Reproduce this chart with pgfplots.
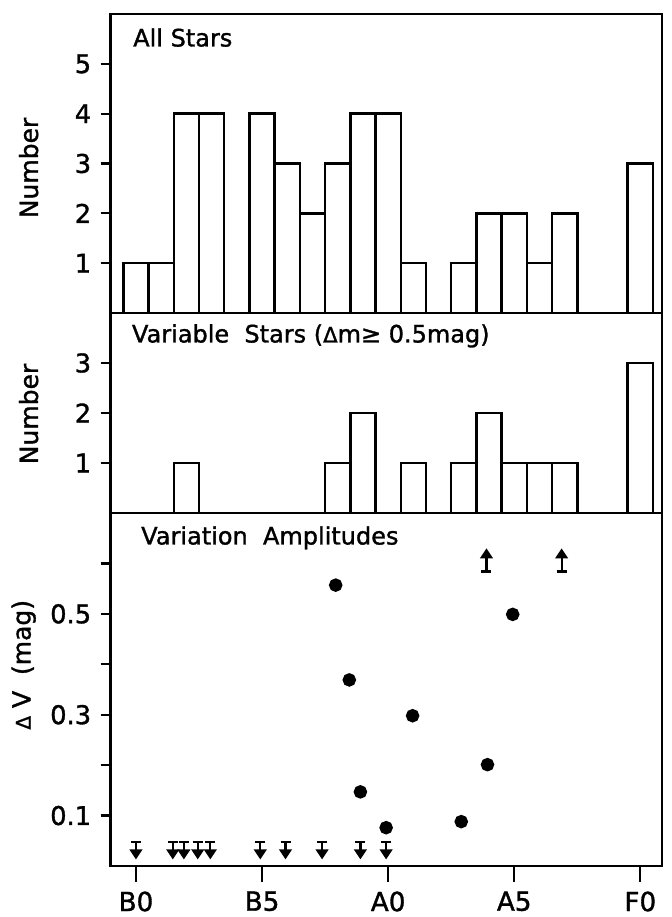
\documentclass[border=0pt]{standalone}
\usepackage{fontspec}
\setmainfont{DejaVu Sans}[FakeBold=1.3]
\usepackage{pgfplots}
\pgfplotsset{compat=1.18}

\pgfdeclareplotmark{ulim}{%
  \pgfsetlinewidth{0.9pt}%
  \pgfpathmoveto{\pgfpoint{-2pt}{0pt}}\pgfpathlineto{\pgfpoint{2pt}{0pt}}%
  \pgfpathmoveto{\pgfpoint{0pt}{0pt}}\pgfpathlineto{\pgfpoint{0pt}{-4.2pt}}%
  \pgfusepathqstroke
  \pgfpathmoveto{\pgfpoint{-1.8pt}{-3.3pt}}\pgfpathlineto{\pgfpoint{0pt}{-6pt}}\pgfpathlineto{\pgfpoint{1.8pt}{-3.3pt}}\pgfpathclose
  \pgfusepathqfillstroke
}
\pgfdeclareplotmark{llim}{%
  \pgfsetlinewidth{0.9pt}%
  \pgfpathmoveto{\pgfpoint{-2pt}{0pt}}\pgfpathlineto{\pgfpoint{2pt}{0pt}}%
  \pgfpathmoveto{\pgfpoint{0pt}{0pt}}\pgfpathlineto{\pgfpoint{0pt}{6.2pt}}%
  \pgfusepathqstroke
  \pgfpathmoveto{\pgfpoint{-1.8pt}{5.7pt}}\pgfpathlineto{\pgfpoint{0pt}{8.4pt}}\pgfpathlineto{\pgfpoint{1.8pt}{5.7pt}}\pgfpathclose
  \pgfusepathqfillstroke
}

\pgfplotsset{
  panel/.style={
    scale only axis, width=220.4pt,
    xmin=-1, xmax=20.85, ymin=0,
    line width=1pt,
    axis line style={line width=1pt},
    every outer x axis line/.append style={line width=1pt},
    every outer y axis line/.append style={line width=1pt},
    tick align=outside, xtick pos=bottom, ytick pos=left,
    major tick length=4pt, minor tick length=3.6pt,
    every tick/.style={black, line width=0.9pt},
    /pgf/number format/assume math mode=true,
    tick label style={font=\fontsize{10.3}{12}\selectfont},
    label style={font=\fontsize{10}{12}\selectfont},
    every axis y label/.style={at={(axis description cs:-0.149,0.5)}, rotate=90, anchor=center},
  },
  hbar/.style={ybar, bar width=1, fill=white, draw=black, line width=1pt},
}

\begin{document}
\begin{tikzpicture}
\useasboundingbox (-44.3pt,-20.4pt) rectangle (224.1pt,346.4pt);

% ---------- top panel ----------
\begin{axis}[panel, at={(0pt,221.2pt)}, anchor=south west,
  height=119.6pt, ymax=6, xtick=\empty, ytick={1,2,3,4,5},
  ylabel={Number},
  every axis y label/.append style={at={(axis description cs:-0.149,0.485)}}]
\addplot[hbar] coordinates {(0,1)(1,1)(2,4)(3,4)(5,4)(6,3)(7,2)(8,3)(9,4)(10,4)(11,1)(13,1)(14,2)(15,2)(16,1)(17,2)(20,3)};
\node[anchor=north west, inner sep=0pt, font=\fontsize{9.6}{11}\selectfont, xshift=8.5pt, yshift=-5.2pt] at (rel axis cs:0,1) {All Stars};
\end{axis}

% ---------- middle panel ----------
\begin{axis}[panel, at={(0pt,141.2pt)}, anchor=south west,
  height=80pt, ymax=4, xtick=\empty, ytick={1,2,3},
  ylabel={Number},
  every axis y label/.append style={at={(axis description cs:-0.149,0.495)}}]
\addplot[hbar] coordinates {(2,1)(8,1)(9,2)(11,1)(13,1)(14,2)(15,1)(16,1)(17,1)(20,3)};
\node[anchor=north west, inner sep=0pt, font=\fontsize{9.6}{11}\selectfont, xshift=8pt, yshift=-4pt] at (rel axis cs:0,1) {Variable\ \ Stars ({\fontsize{8.5}{9}\selectfont Δ}m≥ 0.5mag)};
\end{axis}

% ---------- bottom panel ----------
\begin{axis}[panel, at={(0pt,0pt)}, anchor=south west,
  height=141.2pt, ymax=0.7,
  xtick=\empty,
  minor xtick={1,2,3,4,6,7,8,9,11,12,13,14,16,17,18,19},
  extra x ticks={0,5,10,15,20},
  extra x tick labels={B0,B5,A0,A5,F0},
  extra x tick style={major tick length=6.4pt, tick label style={font=\fontsize{10.5}{12}\selectfont}},
  ytick={0.1,0.2,0.3,0.4,0.5,0.6},
  yticklabels={0.1,,0.3,,0.5,},
  ylabel={{\fontsize{8}{9}\selectfont Δ} V\ \ (mag)},
  every axis y label/.append style={at={(axis description cs:-0.158,0.57)}}]
\addplot[only marks, mark=*, mark size=2.2pt, black] coordinates {(7.92,0.557)(8.46,0.369)(8.9,0.147)(9.92,0.076)(10.97,0.298)(12.9,0.088)(13.94,0.201)(14.94,0.499)};
\addplot[only marks, mark=ulim, black] coordinates {(0,0.047)(1.46,0.047)(1.9,0.047)(2.45,0.047)(2.95,0.047)(4.93,0.047)(5.93,0.047)(7.38,0.047)(8.9,0.047)(9.92,0.047)};
\addplot[only marks, mark=llim, black] coordinates {(13.9,0.584)(16.88,0.584)};
\node[anchor=north west, inner sep=0pt, font=\fontsize{9.6}{11}\selectfont, xshift=11.7pt, yshift=-4.8pt] at (rel axis cs:0,1) {Variation\ \ Amplitudes};
\end{axis}
\end{tikzpicture}
\end{document}
